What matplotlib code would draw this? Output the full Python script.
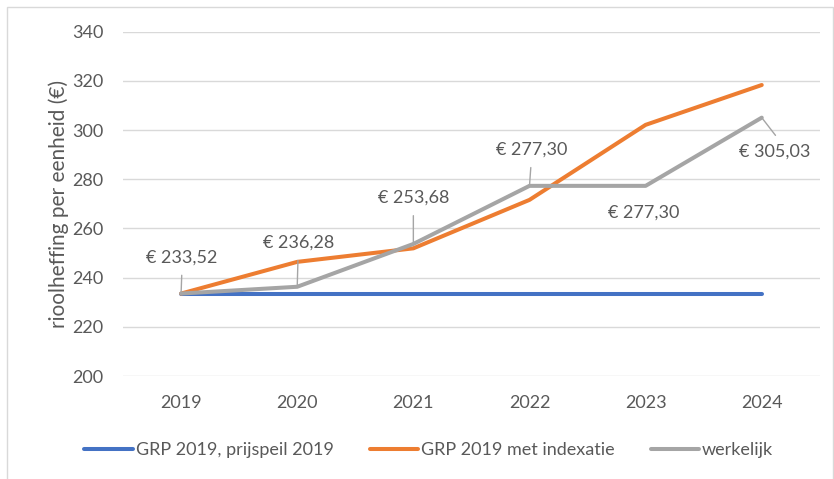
import matplotlib.pyplot as plt
from matplotlib.patches import Rectangle

# data
jaren = ['2019', '2020', '2021', '2022', '2023', '2024']
grp_prijspeil = [233.52, 233.52, 233.52, 233.52, 233.52, 233.52]
grp_indexatie = [233.52, 246.4, 251.9, 271.6, 302.1, 318.3]
werkelijk = [233.52, 236.28, 253.68, 277.30, 277.30, 305.03]
labels = ['€ 233,52', '€ 236,28', '€ 253,68', '€ 277,30', '€ 277,30', '€ 305,03']

# label offsets in pixels (dx, dy, onder/boven, leader lijn)
label_pos = [(1, 28, 'bottom', True), (1, 36, 'bottom', True), (0, 38, 'bottom', True),
             (2, 28, 'bottom', True), (-2, -19, 'top', False), (13, -26, 'top', True)]

tekst = '#595959'
plt.rcParams['font.family'] = ['Lato', 'DejaVu Sans']

fig = plt.figure(figsize=(8.34, 4.79), dpi=100)
ax = fig.add_axes([0.1475, 0.215, 0.8355, 0.719])

x = range(len(jaren))
ax.plot(x, grp_prijspeil, color='#4472C4', lw=2.9, solid_capstyle='round', label='GRP 2019, prijspeil 2019')
ax.plot(x, grp_indexatie, color='#ED7D31', lw=2.9, solid_capstyle='round', label='GRP 2019 met indexatie')
ax.plot(x, werkelijk, color='#A5A5A5', lw=2.9, solid_capstyle='round', label='werkelijk')

for i, (dx, dy, va, lijn) in enumerate(label_pos):
    props = None
    if lijn:
        rel = (0.5, 0) if va == 'bottom' else (0.6, 1)
        props = dict(arrowstyle='-', color='#A5A5A5', lw=1, shrinkA=5, shrinkB=0, relpos=rel)
    ax.annotate(labels[i], (i, werkelijk[i]), xytext=(dx, dy), textcoords='offset pixels',
                ha='center', va=va, fontsize=13, color=tekst, arrowprops=props)

ax.set_xlim(-0.5, 5.5)
ax.set_ylim(200, 340)
ax.set_yticks(range(200, 341, 20))
ax.set_xticks(list(x))
ax.set_xticklabels(jaren)
ax.grid(axis='y', color='#D9D9D9', lw=1)
ax.set_axisbelow(True)
for s in ax.spines.values():
    s.set_visible(False)
ax.tick_params(length=0, labelsize=13, labelcolor=tekst)
ax.tick_params(axis='x', pad=14)
ax.tick_params(axis='y', pad=14)
ax.set_ylabel('rioolheffing per eenheid (€)', fontsize=15, color=tekst, labelpad=2)

fig.legend(loc='center', bbox_to_anchor=(0.514, 0.06), ncol=3, frameon=False,
           fontsize=13, labelcolor=tekst, handlelength=2.7, handletextpad=0.15, columnspacing=2.0)

# rand rond de grafiek
fig.patches.append(Rectangle((7 / 834, -0.01), 826 / 834, 1 - 7 / 479 + 0.01, transform=fig.transFigure,
                             fill=False, edgecolor='#D9D9D9', lw=1))

fig.savefig('out.png', dpi=100)
